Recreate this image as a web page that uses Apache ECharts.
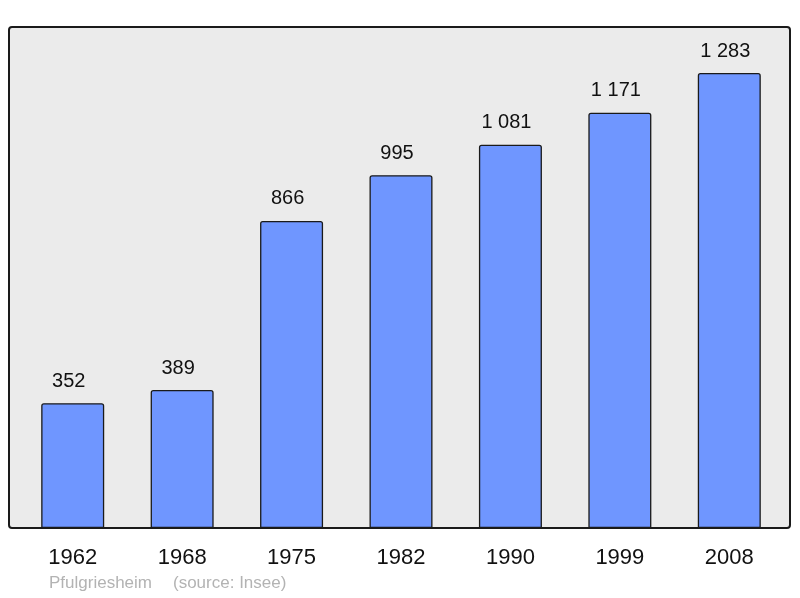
<!DOCTYPE html>
<html><head><meta charset="utf-8">
<script src="https://cdn.jsdelivr.net/npm/echarts@6/dist/echarts.min.js"></script>
<style>html,body{margin:0;padding:0;background:#fff}#c{width:800px;height:598px}</style>
</head><body><div id="c"></div>
<script>
const years = ['1962','1968','1975','1982','1990','1999','2008'];
const population = [352, 389, 866, 995, 1081, 1171, 1283];
const footerName = 'Pfulgriesheim';
const footerSource = '(source: Insee)';

const FONT = '"Liberation Sans", Arial, sans-serif';
const chart = echarts.init(document.getElementById('c'), null, {renderer:'canvas'});
chart.setOption({
  animation: false,
  backgroundColor: '#ffffff',
  graphic: [
    {type:'rect', z:-10, shape:{x:9, y:27, width:781, height:501, r:3},
     style:{fill:'#ebebeb', stroke:'#1a1a1a', lineWidth:2}},
    {type:'text', left:49, top:575, style:{text:footerName, fill:'#b3b3b3', font:'17px ' + FONT}},
    {type:'text', left:173, top:575, style:{text:footerSource, fill:'#b3b3b3', font:'17px ' + FONT}}
  ],
  grid: {left:18, right:16, top:73, bottom:70},
  xAxis: {
    type:'category', data: years,
    axisLine:{show:false}, axisTick:{show:false},
    axisLabel:{fontSize:22, color:'#111', margin:19, fontFamily:FONT}
  },
  yAxis: {type:'value', min:0, max:1283, show:false, splitLine:{show:false}},
  series: [{
    type:'bar', data: population, barWidth:63,
    itemStyle:{color:'#6f96ff', borderColor:'#1a1a1a', borderWidth:1.3, borderRadius:[2,2,0,0]},
    label:{show:true, position:'top', distance:12, offset:[-4,0], fontSize:20, color:'#111',
      fontFamily:FONT,
      formatter: p => String(p.value).replace(/\B(?=(\d{3})+(?!\d))/g, ' ')}
  }]
});
</script></body></html>
